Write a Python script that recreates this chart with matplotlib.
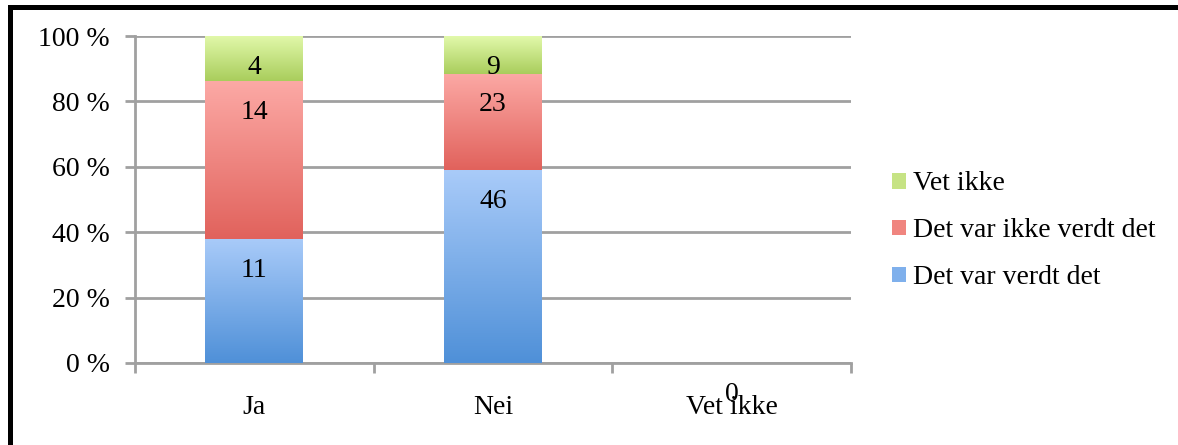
import numpy as np
import matplotlib
matplotlib.use("Agg")
import matplotlib.pyplot as plt
from matplotlib.colors import LinearSegmentedColormap
from matplotlib.patches import Rectangle

categories = ["Ja", "Nei", "Vet ikke"]
series_names = ["Det var verdt det", "Det var ikke verdt det", "Vet ikke"]
verdt = [11, 46, 0]
ikke_verdt = [14, 23, 0]
vet_ikke = [4, 9, 0]
yticks = [0, 20, 40, 60, 80, 100]

# gradient top/bottom colours per series
grads = [("#a9cbf9", "#4f90d8"), ("#fca9a5", "#e1625c"), ("#e2f9ab", "#a9cd5c")]
legend_cols = ["#7fb0ec", "#f0857f", "#c6e384"]

plt.rcParams['font.family'] = ['Liberation Serif', 'DejaVu Serif']
FS = 20

fig = plt.figure(figsize=(11.78, 4.45), dpi=100)
ax = fig.add_axes([135 / 1178, 1 - 363 / 445, 716 / 1178, 327 / 445])

counts = np.array([verdt, ikke_verdt, vet_ikke], dtype=float)
totals = counts.sum(axis=0)
totals[totals == 0] = 1
pct = counts / totals * 100

x = np.arange(len(categories))
bottom = np.zeros(len(categories))
placed = set()
for i, name in enumerate(series_names):
    top_c, bot_c = grads[i]
    cmap = LinearSegmentedColormap.from_list("g%d" % i, [bot_c, top_c])
    bars = ax.bar(x, pct[i], 0.41, bottom=bottom, color=legend_cols[i], label=name,
                  linewidth=0, zorder=3)
    for b in bars:
        h = b.get_height()
        if h <= 0:
            continue
        x0, y0 = b.get_x(), b.get_y()
        grad = np.linspace(0, 1, 256).reshape(-1, 1)
        im = ax.imshow(grad, cmap=cmap, origin="lower", aspect="auto",
                       extent=[x0, x0 + b.get_width(), y0, y0 + h], zorder=4)
        im.set_clip_path(b)
    top = bottom + pct[i]
    for j in range(len(categories)):
        key = (j, round(top[j], 3))
        if key in placed:
            continue
        placed.add(key)
        ax.annotate("%d" % counts[i, j], (x[j], top[j]), xytext=(0, -22.5),
                    textcoords="offset points", ha="center", va="center",
                    fontsize=FS, zorder=6, annotation_clip=False)
    bottom = top

ax.set_xlim(-0.5, 2.5)
ax.set_ylim(0, 100)
ax.set_yticks(yticks)
ax.set_yticklabels(["%d %%" % t for t in yticks], fontsize=FS)
ax.set_xticks(x)
ax.set_xticklabels(categories, fontsize=FS)
ax.set_xticks([-0.5, 0.5, 1.5, 2.5], minor=True)
ax.tick_params(axis="x", which="major", length=0, pad=23)
ax.tick_params(axis="x", which="minor", length=7, width=2, color="#a0a0a0")
ax.tick_params(axis="y", length=7, width=2, color="#a0a0a0", pad=11)
ax.grid(axis="y", color="#a0a0a0", linewidth=2, zorder=0)
ax.set_axisbelow(True)
for s in ["top", "right"]:
    ax.spines[s].set_visible(False)
for s in ["left", "bottom"]:
    ax.spines[s].set_color("#a0a0a0")
    ax.spines[s].set_linewidth(2)

handles, labels = ax.get_legend_handles_labels()
ax.legend(handles[::-1], labels[::-1], loc="center left",
          bbox_to_anchor=(1.022, 0.404), frameon=False, fontsize=FS,
          handlelength=0.5, handleheight=0.5, handletextpad=0.25,
          labelspacing=0.79)

# black frame on top and left
fig.patches.append(Rectangle((9.5 / 1178, -0.1), 1.2, (445 - 6.5) / 445 + 0.1,
                             transform=fig.transFigure, fill=False,
                             edgecolor="black", linewidth=3.6))

fig.savefig("out.png", dpi=100)
